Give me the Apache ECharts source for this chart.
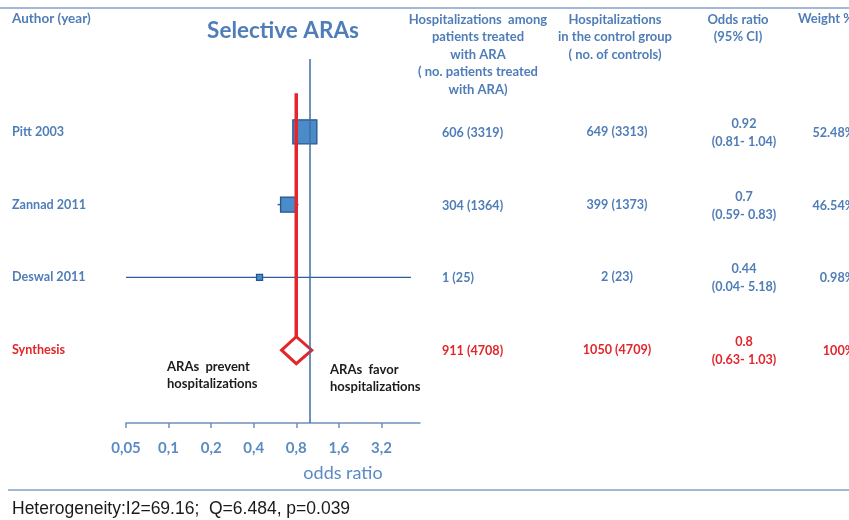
<!DOCTYPE html>
<html>
<head>
<meta charset="utf-8">
<script src="https://cdn.jsdelivr.net/npm/echarts@6/dist/echarts.min.js"></script>
<style>
  html, body { margin: 0; padding: 0; background: #fff; }
  #chart { width: 849px; height: 520px; }
</style>
</head>
<body>
<div id="chart"></div>
<script>
// forest plot data (one entry per row, last row = pooled result)
const studies = ['Pitt 2003', 'Zannad 2011', 'Deswal 2011', 'Synthesis']
const treatedEvents = [606, 304, 1, 911]
const treatedTotal = [3319, 1364, 25, 4708]
const controlEvents = [649, 399, 2, 1050]
const controlTotal = [3313, 1373, 23, 4709]
const oddsRatio = [0.92, 0.7, 0.44, 0.8]
const ciLow = [0.81, 0.59, 0.04, 0.63]
const ciHigh = [1.04, 0.83, 5.18, 1.03]
const weights = [52.48, 46.54, 0.98, 100]
// x axis: doubling ticks starting at 0.05
const tickValues = [0.05, 0.1, 0.2, 0.4, 0.8, 1.6, 3.2]
const tickLabels = ['0,05', '0,1', '0,2', '0,4', '0,8', '1,6', '3,2']
const axisMax = 6
const heterogeneity = 'Heterogeneity:I2=69.16;  Q=6.484, p=0.039'

// styles
const BLUE = '#4f7db8'
const RED = '#e3262b'
const FONT = 'Lato'
const boxSize = [24, 15, 6]   // square size per study (px)

// log2 axis expressed in doublings from the first tick
const lx = v => Math.log2(v / tickValues[0])

const chart = echarts.init(document.getElementById('chart'), null, { renderer: 'canvas' })

const studyData = studies.slice(0, 3).map((s, i) => [lx(oddsRatio[i]), i, lx(ciLow[i]), lx(ciHigh[i])])
const pooled = studies.length - 1
const poolData = [[lx(oddsRatio[pooled]), pooled, lx(ciLow[pooled]), lx(ciHigh[pooled])]]
const tableData = studies.map((s, i) => [0, i])

const txt = (x, y, text, opt) => ({
  type: 'text', x: x, y: y,
  style: Object.assign({ text: text, fontFamily: FONT, fontWeight: 'bold', fontSize: 13, fill: BLUE, textVerticalAlign: 'middle' }, opt || {})
})

chart.setOption({
  animation: false,
  title: {
    text: 'Selective ARAs',
    left: 278, top: 14, textAlign: 'center',
    textStyle: { fontFamily: FONT, fontWeight: 'bold', fontSize: 22.5, color: BLUE }
  },
  grid: { left: 126, right: 429, top: 59, bottom: 97 },
  xAxis: {
    type: 'value',
    position: 'bottom',
    min: 0, max: lx(axisMax), interval: 1,
    splitLine: { show: false },
    axisLine: { onZero: false, lineStyle: { color: '#7090bb', width: 1.5 } },
    axisTick: { show: true, length: 5, lineStyle: { color: '#7090bb', width: 1.5 },
      customValues: tickValues.map(lx) },
    axisLabel: {
      customValues: tickValues.map(lx),
      margin: 18,
      fontFamily: FONT, fontWeight: 'bold', fontSize: 15, color: '#5a8bc4',
      formatter: v => tickLabels[Math.round(v)]
    }
  },
  yAxis: { type: 'value', min: -1, max: 4, inverse: true, show: false },
  graphic: [
    { type: 'line', shape: { x1: 0, y1: 8, x2: 849, y2: 8 }, style: { stroke: '#a4b8d6', lineWidth: 2 } },
    { type: 'line', shape: { x1: 8, y1: 490, x2: 849, y2: 490 }, style: { stroke: '#a4b8d6', lineWidth: 2 } },
    txt(12, 19, 'Author (year)', { fontSize: 13.5 }),
    txt(478, 11, 'Hospitalizations  among\npatients treated\nwith ARA\n( no. patients treated\nwith ARA)',
      { textAlign: 'center', textVerticalAlign: 'top', lineHeight: 17.5 }),
    txt(615, 11, 'Hospitalizations\nin the control group\n( no. of controls)',
      { textAlign: 'center', textVerticalAlign: 'top', lineHeight: 17.5 }),
    txt(738, 11, 'Odds ratio\n(95% CI)', { textAlign: 'center', textVerticalAlign: 'top', lineHeight: 17.5 }),
    txt(798, 19, 'Weight %'),
    txt(167, 358, 'ARAs  prevent\nhospitalizations', { fill: '#1b1b1b', textVerticalAlign: 'top', lineHeight: 17 }),
    txt(330, 361, 'ARAs  favor\nhospitalizations', { fill: '#1b1b1b', textVerticalAlign: 'top', lineHeight: 17 }),
    txt(343, 473, 'odds ratio', { textAlign: 'center', fontSize: 18, fontWeight: 'normal', fill: '#5a8bc4' }),
    txt(12, 509, heterogeneity, { fontFamily: 'Liberation Sans', fontWeight: 'normal', fontSize: 17.5, fill: '#1a1a1a' })
  ],
  series: [
    {
      // individual studies: CI line + weighted square
      type: 'custom',
      clip: true,
      z: 3,
      data: studyData,
      renderItem: (params, api) => {
        const y = api.value(1)
        const c = api.coord([api.value(0), y])
        const lo = api.coord([api.value(2), y])
        const hi = api.coord([api.value(3), y])
        const s = boxSize[params.dataIndex]
        return {
          type: 'group',
          children: [
            { type: 'line', shape: { x1: lo[0], y1: c[1], x2: hi[0], y2: c[1] },
              style: { stroke: '#2f5e9e', lineWidth: 1.4 } },
            { type: 'rect', shape: { x: c[0] - s / 2, y: c[1] - s / 2, width: s, height: s },
              style: { fill: '#4a8bc9', stroke: '#25548f', lineWidth: 1.3 } }
          ]
        }
      },
      markLine: {
        silent: true, symbol: 'none', label: { show: false },
        lineStyle: { color: '#3f6ca8', width: 1.5, type: 'solid' },
        data: [{ xAxis: lx(1) }]
      }
    },
    {
      // pooled estimate: red line + diamond
      type: 'custom',
      z: 4,
      data: poolData,
      renderItem: (params, api) => {
        const y = api.value(1)
        const c = api.coord([api.value(0), y])
        const lo = api.coord([api.value(2), y])
        const hi = api.coord([api.value(3), y])
        const top = api.coord([api.value(0), -0.53])
        const h = 13.5
        return {
          type: 'group',
          children: [
            { type: 'line', shape: { x1: c[0], y1: top[1], x2: c[0], y2: c[1] - h },
              style: { stroke: RED, lineWidth: 3.5 } },
            { type: 'polygon', shape: { points: [[lo[0], c[1]], [c[0], c[1] - h], [hi[0], c[1]], [c[0], c[1] + h]] },
              style: { fill: '#fff', stroke: RED, lineWidth: 3 } }
          ]
        }
      }
    },
    {
      // table columns aligned to the rows
      type: 'custom',
      clip: false,
      silent: true,
      data: tableData,
      renderItem: (params, api) => {
        const i = params.dataIndex
        const y = api.coord([0, api.value(1)])[1]
        const fill = i === pooled ? RED : BLUE
        const base = { fontFamily: FONT, fontWeight: 'bold', fontSize: 12.6, fill: fill, textVerticalAlign: 'middle' }
        const t = (x, yy, text, align) => ({ type: 'text', x: x, y: yy,
          style: Object.assign({}, base, { text: text, textAlign: align }) })
        return {
          type: 'group',
          children: [
            t(12, y, studies[i], 'left'),
            t(442, y + 1, treatedEvents[i] + ' (' + treatedTotal[i] + ')', 'left'),
            t(617, y, controlEvents[i] + ' (' + controlTotal[i] + ')', 'center'),
            t(744, y - 8, String(oddsRatio[i]), 'center'),
            t(744, y + 10, '(' + ciLow[i] + '- ' + ciHigh[i] + ')', 'center'),
            t(855, y + 1, weights[i] + '%', 'right')
          ]
        }
      }
    }
  ]
})
</script>
</body>
</html>
